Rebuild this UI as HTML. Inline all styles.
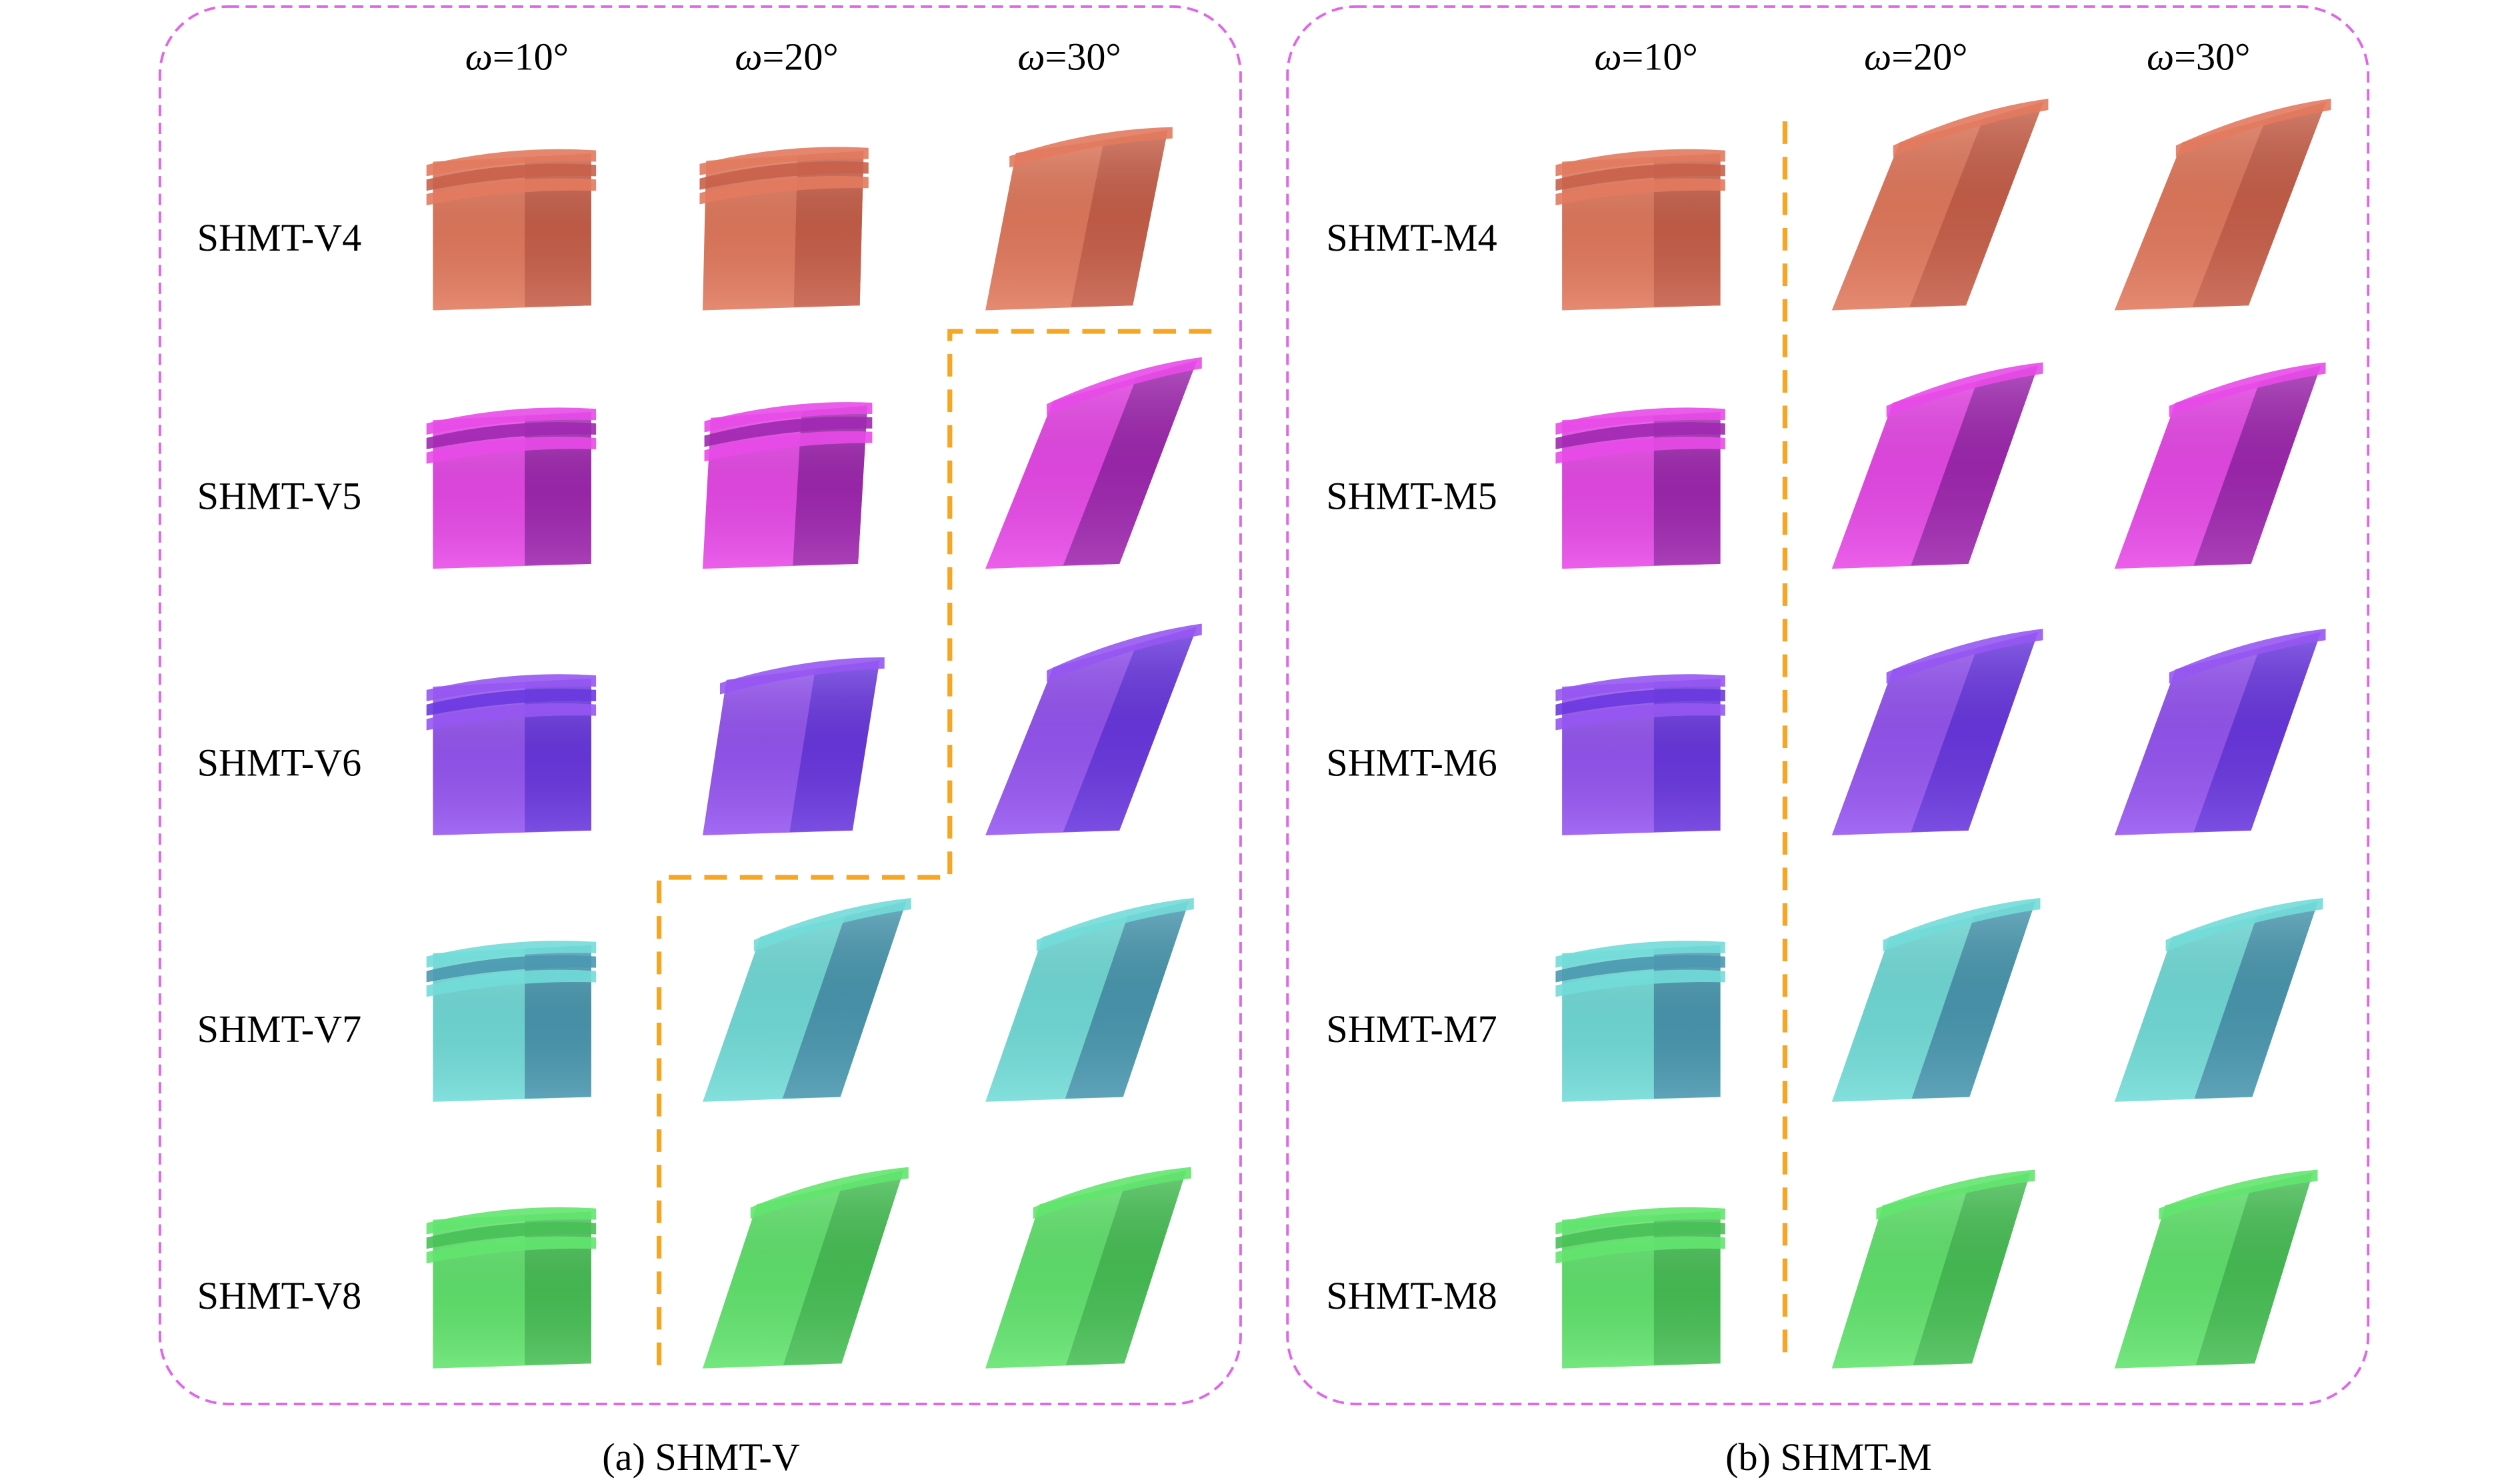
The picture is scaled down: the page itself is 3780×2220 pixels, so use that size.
<!DOCTYPE html>
<html><head><meta charset="utf-8"><style>
html,body{margin:0;padding:0;background:#fff;}
svg{display:block;}
text{font-family:"Liberation Serif",serif;fill:#000;}
</style></head><body>
<svg id="fig" width="3780" height="2220" viewBox="0 0 1560 916" xmlns="http://www.w3.org/2000/svg">
<defs>
<linearGradient id="shade" x1="0" y1="0" x2="0" y2="1">
<stop offset="0" stop-color="#fff" stop-opacity="0.2"/>
<stop offset="0.5" stop-color="#000" stop-opacity="0.06"/>
<stop offset="1" stop-color="#fff" stop-opacity="0.12"/>
</linearGradient>
</defs>
<rect x="99" y="4" width="669" height="865" rx="42" fill="none" stroke="#e066e8" stroke-width="1.6" stroke-dasharray="7,4"/>
<rect x="797" y="4" width="669" height="865" rx="42" fill="none" stroke="#e066e8" stroke-width="1.6" stroke-dasharray="7,4"/>
<path d="M750,205 L588,205 L588,543 L408,543 L408,845" fill="none" stroke="#f5a623" stroke-width="3" stroke-dasharray="14,8"/>
<line x1="1105" y1="75" x2="1105" y2="845" stroke="#f5a623" stroke-width="3" stroke-dasharray="14,8"/>
<text x="434" y="910" font-size="24" text-anchor="middle">(a) SHMT-V</text>
<text x="1132" y="910" font-size="24" text-anchor="middle">(b) SHMT-M</text>
<g id="cells"></g>
</svg>
<script>
const panels = ["V","M"];
const panelX = [0, 699];
const colCenters = [318, 485, 660];
const angles = ["10","20","30"];
const rowNames = ["4","5","6","7","8"];
const rowCenters = [145, 305, 470, 635, 800];
const colors = ["#e27a5e","#e84ae8","#9656f2","#72dcd8","#62e46e"];
const darks = ["#c8604a","#a028b0","#6a38e0","#4a98b0","#48c056"];
const shearV = [[0,0.05,0.45],[0,0.12,1],[0,0.35,1],[0,0.85,0.85],[0,0.8,0.8]];
const shearM = [[0,1,1],[0,0.9,0.9],[0,0.9,0.9],[0,0.85,0.85],[0,0.75,0.75]];
const NS="http://www.w3.org/2000/svg";
const svg=document.getElementById('cells');
function mk(tag,attrs){const e=document.createElementNS(NS,tag);for(const k in attrs)e.setAttribute(k,attrs[k]);svg.appendChild(e);return e;}
panels.forEach((p,pi)=>{
  const ox=panelX[pi];
  angles.forEach((a,ci)=>{
    const t=mk('text',{x:ox+colCenters[ci]+2,y:43,'font-size':24,'text-anchor':'middle'});
    
    
    t.innerHTML='<tspan font-style="italic">ω</tspan>='+a+'°';
  });
  rowNames.forEach((r,ri)=>{
    const t=mk('text',{x:ox+122,y:rowCenters[ri]+10,'font-size':24});
    
    
    t.textContent='SHMT-'+p+r;
    colCenters.forEach((cx0,ci)=>{
      const s=(pi?shearM:shearV)[ri][ci];
      const cx=ox+cx0, cy=rowCenters[ri];
      const by=cy+47, bl=cx-50, br=cx+48-15*s;
      const tlx=bl+s*42, tly=cy-45-s*12, trx=br+s*48, try_=cy-50-s*32;
      const g=document.createElementNS(NS,'g');svg.appendChild(g);
      
      
      const poly=(pts,fill)=>{const e=document.createElementNS(NS,'polygon');e.setAttribute('points',pts.map(q=>q.join(',')).join(' '));e.setAttribute('fill',fill);g.appendChild(e);};
      poly([[bl,by],[br,by-3],[trx,try_],[tlx,tly]],colors[ri]);
      const f=0.58;
      poly([[bl+(br-bl)*f,by-2],[br,by-3],[trx,try_],[tlx+(trx-tlx)*f,tly+(try_-tly)*f]],darks[ri]);
      poly([[bl,by],[br,by-3],[trx,try_],[tlx,tly]],'url(#shade)');
      const nf = s<0.2?3:1;
      for(let k=0;k<nf;k++){
        const e=document.createElementNS(NS,'path');
        const yo=k*9;
        e.setAttribute('d',`M${tlx-4},${tly+yo+2} Q${(tlx+trx)/2},${(tly+try_)/2+yo-8} ${trx+3},${try_+yo-2} L${trx+3},${try_+yo+5} Q${(tlx+trx)/2},${(tly+try_)/2+yo+1} ${tlx-4},${tly+yo+9} Z`);
        e.setAttribute('fill',k%2?darks[ri]:colors[ri]);
        e.setAttribute('opacity','0.9');
        g.appendChild(e);
      }
    });
  });
});
</script>
</body></html>
